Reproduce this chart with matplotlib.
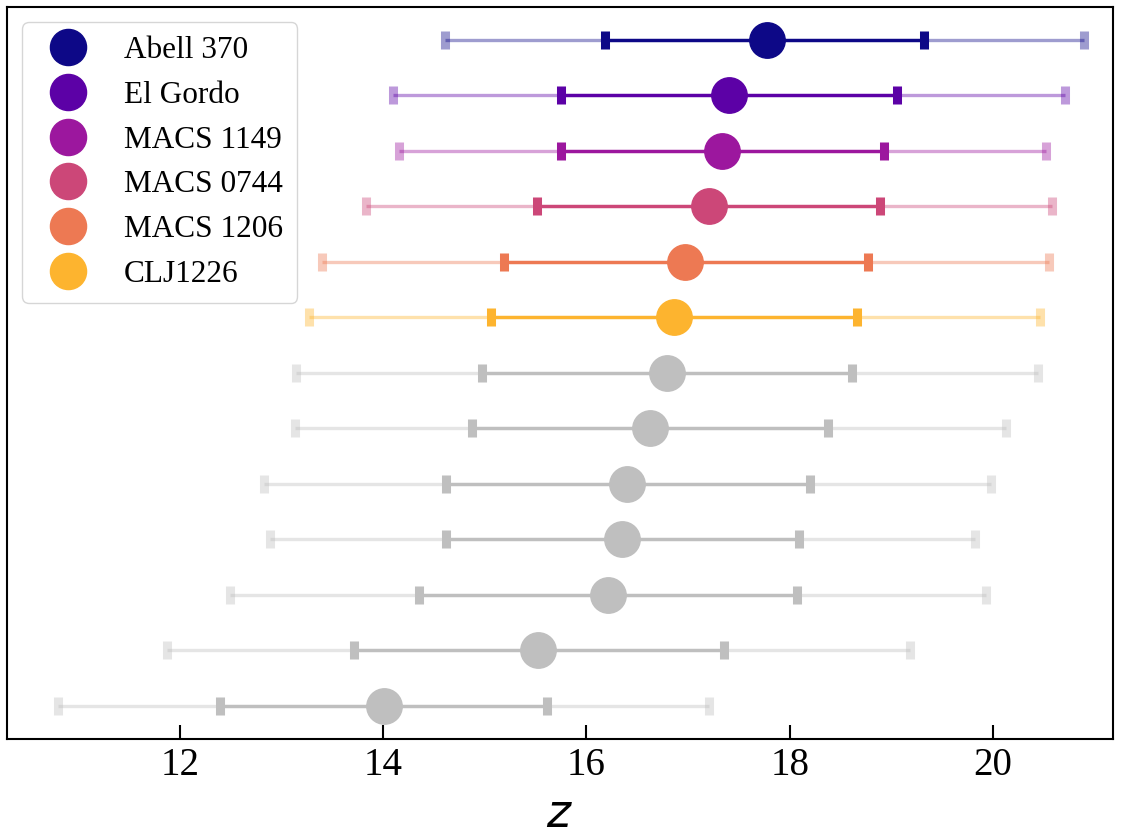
import matplotlib
matplotlib.use("Agg")
import matplotlib.pyplot as plt
from matplotlib.lines import Line2D

plt.rcParams["font.family"] = "serif"
plt.rcParams["font.serif"] = ["Liberation Serif", "DejaVu Serif"]
plt.rcParams["mathtext.fontset"] = "dejavusans"

# rows listed top -> bottom
names = ["Abell 370", "El Gordo", "MACS 1149", "MACS 0744", "MACS 1206", "CLJ1226"]
colors = ["#0d0887", "#5c01a6", "#9c179e", "#cc4778", "#ed7953", "#fdb42f"]
GRAY = "#bfbfbf"

center = [17.78, 17.40, 17.33, 17.21, 16.97, 16.86, 16.79, 16.63, 16.40, 16.35, 16.21, 15.52, 14.01]
lo1 = [16.18, 15.75, 15.75, 15.51, 15.19, 15.06, 14.97, 14.88, 14.62, 14.62, 14.35, 13.71, 12.40]
hi1 = [19.32, 19.06, 18.93, 18.89, 18.77, 18.66, 18.61, 18.38, 18.20, 18.09, 18.07, 17.35, 15.61]
lo2 = [14.61, 14.10, 14.16, 13.83, 13.40, 13.27, 13.14, 13.13, 12.83, 12.89, 12.50, 11.88, 10.80]
hi2 = [20.89, 20.71, 20.52, 20.58, 20.55, 20.46, 20.44, 20.13, 19.98, 19.82, 19.93, 19.18, 17.21]

fig = plt.figure(figsize=(11.3, 8.36), dpi=100)
ax = fig.add_axes([0.006, 0.116, 0.979, 0.876])

n = len(center)
for i in range(n):
    y = n - 1 - i
    col = colors[i] if i < len(colors) else GRAY
    # 2-sigma (faint) then 1-sigma
    ax.errorbar([center[i]], [y], xerr=[[center[i] - lo2[i]], [hi2[i] - center[i]]],
                fmt="none", ecolor=col, alpha=0.4, elinewidth=2.4,
                capsize=6.5, capthick=6.5, zorder=1)
    ax.errorbar([center[i]], [y], xerr=[[center[i] - lo1[i]], [hi1[i] - center[i]]],
                fmt="none", ecolor=col, elinewidth=2.4,
                capsize=6.5, capthick=6.5, zorder=2)
    ax.plot([center[i]], [y], "o", color=col, markersize=25.5, zorder=3)

ax.set_xlim(10.30, 21.18)
ax.set_ylim(-0.6, n - 0.4)
ax.set_xticks([12, 14, 16, 18, 20])
ax.set_yticks([])
ax.tick_params(axis="x", direction="in", length=10, width=1.5, labelsize=28, pad=6)
for s in ax.spines.values():
    s.set_linewidth(1.5)
ax.set_xlabel("$z$", fontsize=33, labelpad=7)

handles = [Line2D([0], [0], marker="o", linestyle="none", color=c, markersize=26, label=nm)
           for nm, c in zip(names, colors)]
ax.legend(handles=handles, loc="upper left", fontsize=22.5, handletextpad=0.8,
          labelspacing=0.5, borderpad=0.45)

fig.savefig("out.png", dpi=100)
